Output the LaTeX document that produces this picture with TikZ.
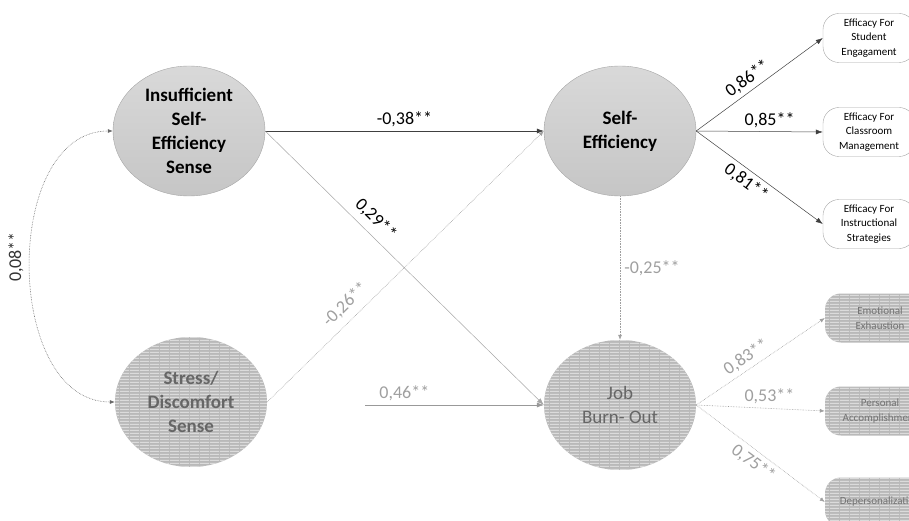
\documentclass[tikz,border=0pt]{standalone}
\usepackage{fontspec}
\setmainfont{Carlito}
\usetikzlibrary{shapes.geometric,patterns,arrows.meta}

\pgfdeclarepatternformonly{scanlines}{\pgfpointorigin}{\pgfpoint{10pt}{3pt}}{\pgfpoint{10pt}{3pt}}{%
  \pgfpathrectangle{\pgfpointorigin}{\pgfpoint{10pt}{1.5pt}}\pgfusepath{fill}}

\tikzset{
  latent/.style={ellipse,draw=gray!70,top color=gray!30,bottom color=gray!45,minimum width=152pt,minimum height=130pt,inner sep=0pt,align=center,font=\fontsize{19}{24}\selectfont\bfseries},
  fadedlatent/.style={ellipse,preaction={fill=gray!55},pattern=scanlines,pattern color=gray!28,minimum width=152pt,minimum height=130pt,inner sep=0pt,align=center,text=black!60,font=\fontsize{19}{24}\selectfont},
  indicator/.style={draw=gray!70,fill=white,rounded corners=16pt,minimum width=92pt,minimum height=49pt,align=center,font=\fontsize{11}{14.5}\selectfont},
  fadedindicator/.style={preaction={fill=gray!55,rounded corners=16pt},pattern=scanlines,pattern color=gray!28,rounded corners=16pt,minimum width=110pt,minimum height=49pt,align=center,text=black!55,font=\fontsize{11}{14.5}\selectfont},
  coef/.style={font=\fontsize{18}{18}\selectfont,inner sep=4pt},
  fadedcoef/.style={coef,text=gray!75},
  effect/.style={->,>={Latex[length=7pt,width=5pt]},draw=black!75,line width=0.5pt},
  fadedeffect/.style={->,>={Latex[length=5pt,width=4pt]},draw=gray!75,densely dotted,line width=0.6pt}
}

\begin{document}
\begin{tikzpicture}[x=1pt,y=-1pt]
  \useasboundingbox (0,0) rectangle (909,521);
  \clip (0,0) rectangle (909,521);

  % latent variables
  \node[latent] (ins) at (189,131) {Insufficient\\Self-\\Efficiency\\Sense};
  \node[latent] (self) at (620,131) {Self-\\Efficiency};
  \node[fadedlatent,font=\fontsize{19}{24}\selectfont\bfseries] (stress) at (191,402) {Stress/\\Discomfort\\Sense};
  \node[fadedlatent] (burn) at (620,405) {Job\\Burn- Out};

  % indicators
  \node[indicator] (eng) at (869,38) {Efficacy For\\Student\\Engagament};
  \node[indicator] (cls) at (869,132) {Efficacy For\\Classroom\\Management};
  \node[indicator] (strat) at (869,224) {Efficacy For\\Instructional\\Strategies};
  \node[fadedindicator] (emo) at (880,318) {Emotional\\Exhaustion};
  \node[fadedindicator] (pers) at (880,411) {Personal\\Accomplishment};
  \node[fadedindicator] (dep) at (880,502) {Depersonalization};

  \coordinate (src) at (365,405);

  % structural paths
  \draw[effect] (ins.east) -- node[coef,pos=0.5,above] (c1) {-0,38**} (self.west);
  \draw[effect,draw=gray!70] (ins.east) -- node[coef,pos=0.36,above=3pt,sloped] (c2) {0,29**} (burn.west);
  \draw[fadedeffect] (stress.east) -- node[fadedcoef,pos=0.32,above=3pt,sloped] (c3) {-0,26**} (self.west);
  \draw[effect,draw=gray!80] (src) -- node[fadedcoef,pos=0.22,above] (c4) {0,46**} (burn.west);
  \draw[fadedeffect] (self.south) -- node[fadedcoef,right,pos=0.5] (c5) {-0,25**} (burn.north);
  \draw[fadedeffect,<->,draw=black!60] (stress.west) to[out=180,in=180,looseness=1.05] (ins.west);
  \node[coef,rotate=90,text=black!80] (c6) at (16,257) {0,08**};

  % measurement paths
  \draw[effect] (self.east) -- node[coef,pos=0.46,above,sloped] (c7) {0,86**} (eng.west);
  \draw[effect] (self.east) -- node[coef,pos=0.58,above] (c8) {0,85**} (cls.west);
  \draw[effect] (self.east) -- node[coef,pos=0.45,below,sloped] (c9) {0,81**} (strat.west);
  \draw[fadedeffect] (burn.east) -- node[fadedcoef,pos=0.44,above,sloped] (c10) {0,83**} (emo.west);
  \draw[fadedeffect] (burn.east) -- node[fadedcoef,pos=0.57,above] (c11) {0,53**} (pers.west);
  \draw[fadedeffect] (burn.east) -- node[fadedcoef,pos=0.5,below,sloped] (c12) {0,75**} (dep.west);
\end{tikzpicture}
\end{document}
